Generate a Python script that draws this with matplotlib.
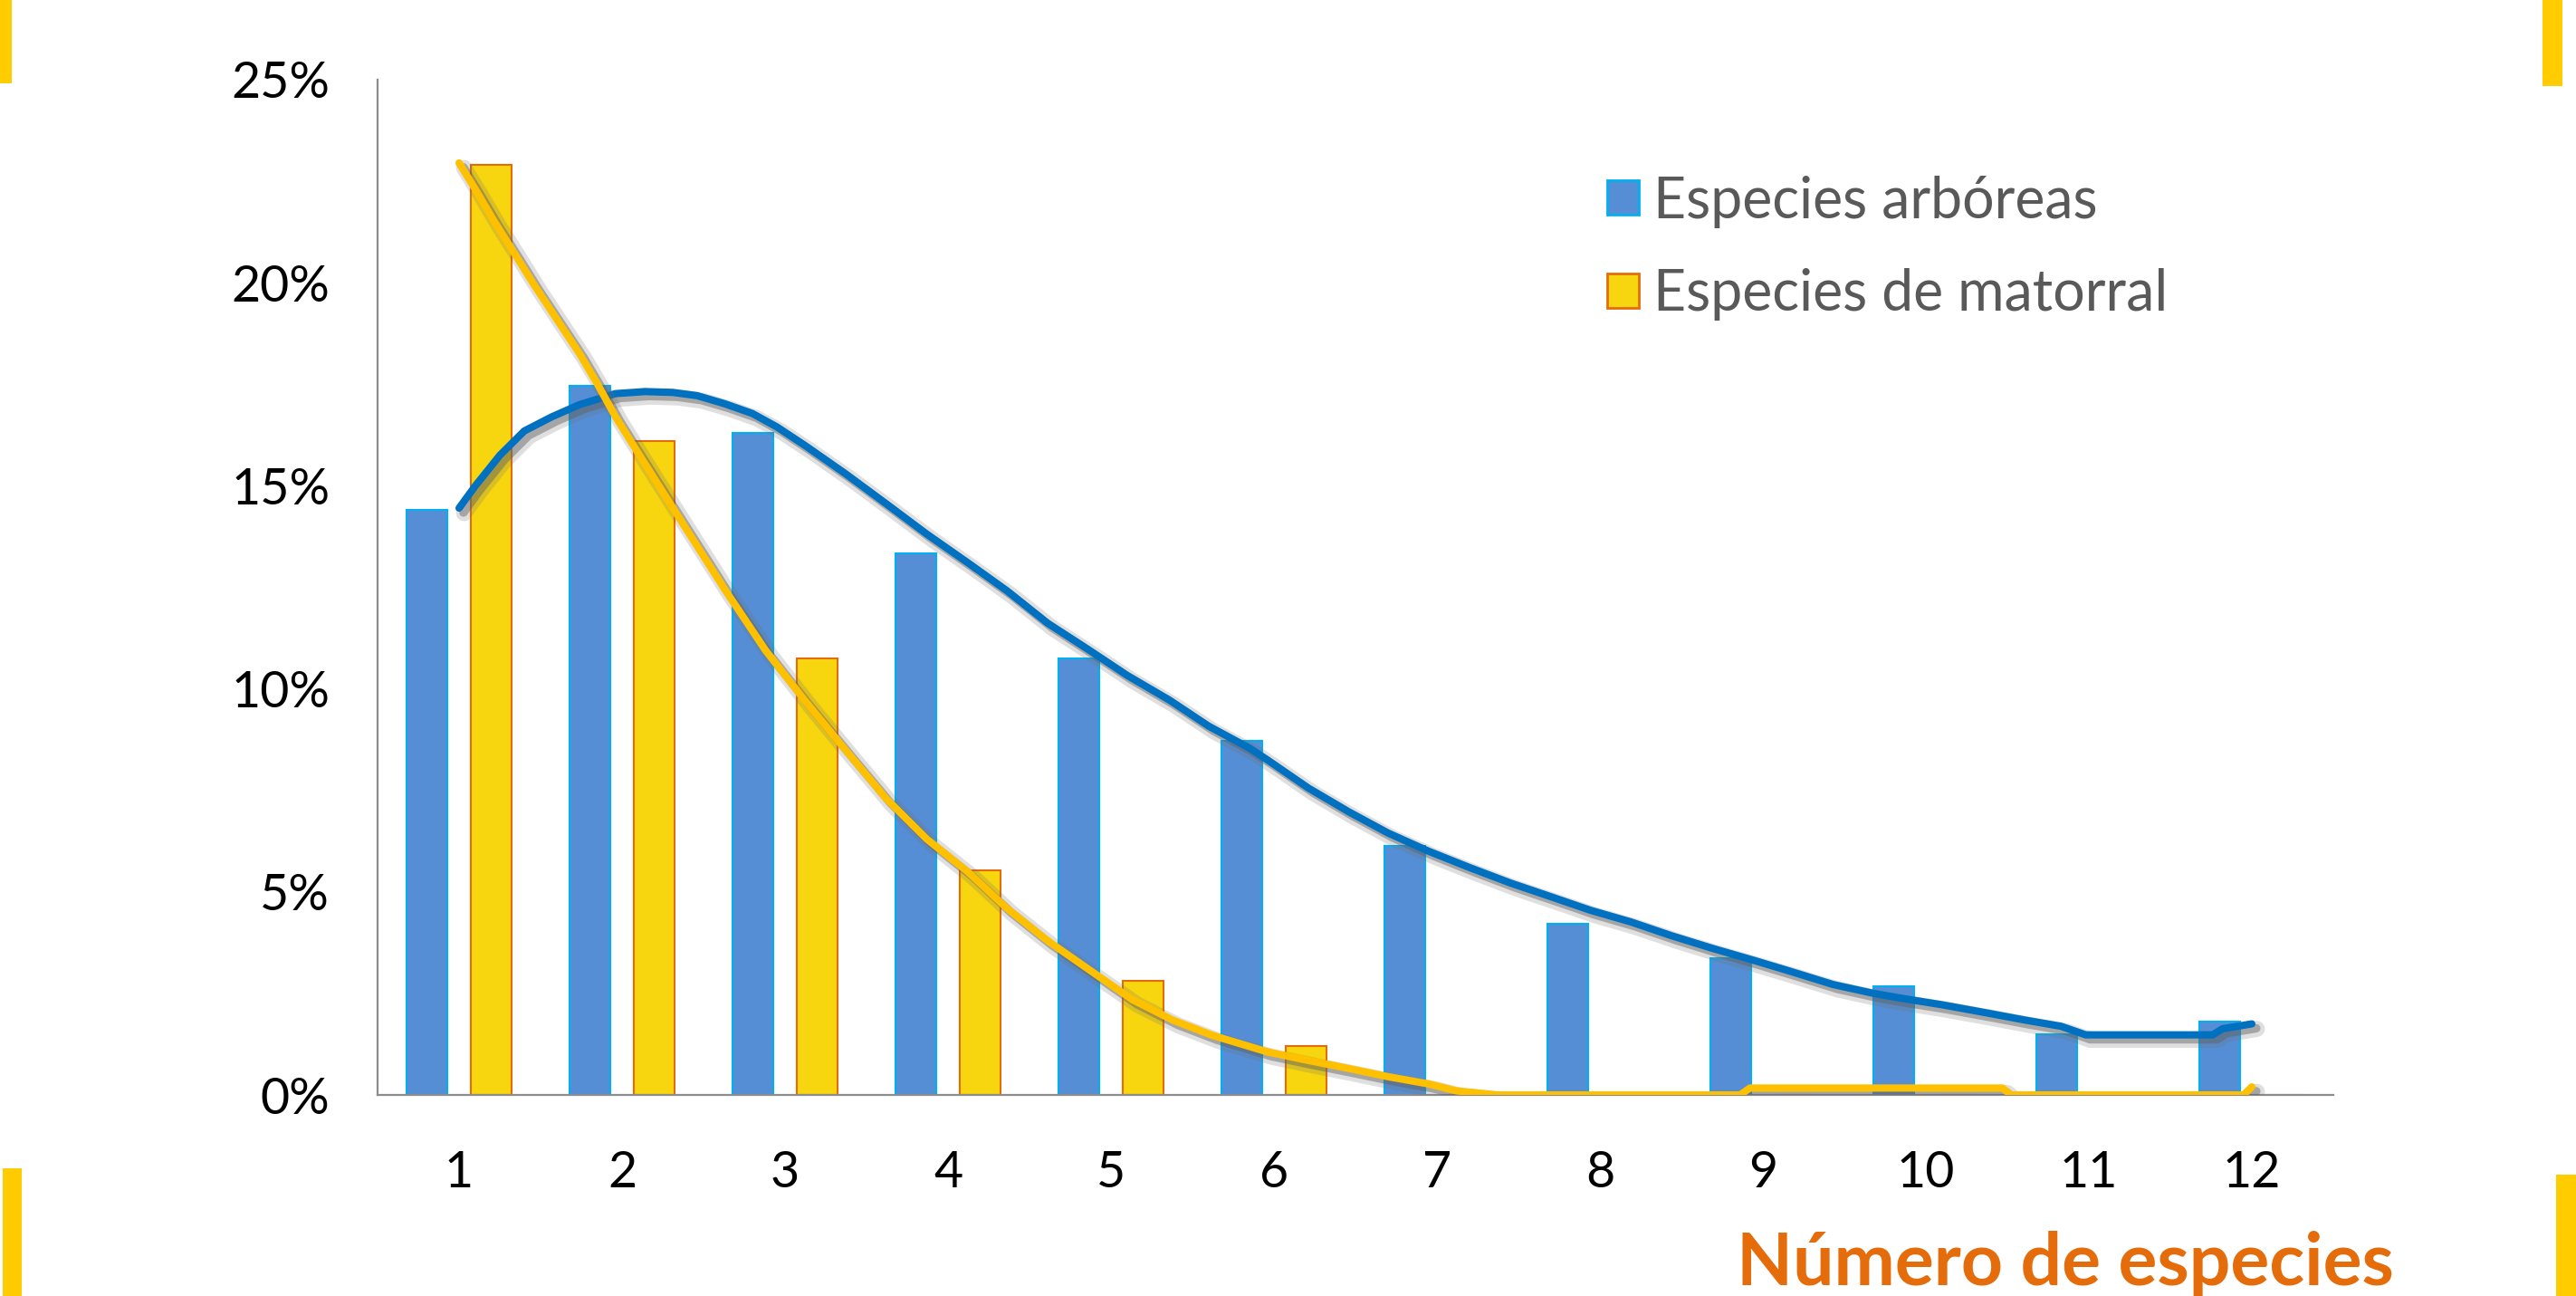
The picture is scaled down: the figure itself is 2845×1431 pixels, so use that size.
import matplotlib
matplotlib.use("Agg")
import matplotlib.pyplot as plt
import matplotlib.patheffects as pe
from matplotlib.patches import Rectangle, Patch

# ---------------- data ----------------
categories = [1, 2, 3, 4, 5, 6, 7, 8, 9, 10, 11, 12]
tick_labels = ["1", "2", "3", "4", "5", "6", "7", "8", "9", "10", "11", "12"]
arboreas = [14.4, 17.47, 16.3, 13.33, 10.75, 8.72, 6.13, 4.21, 3.36, 2.68, 1.5, 1.8]
matorral = [22.9, 16.1, 10.75, 5.53, 2.82, 1.2, 0, 0, 0, 0, 0, 0]

# smoothed curves (category position, percent)
arb_curve_x = [1.0, 1.1, 1.25, 1.4, 1.57, 1.74, 1.96, 2.14, 2.31, 2.46, 2.63, 2.8,
               2.95, 3.12, 3.37, 3.62, 3.87, 4.12, 4.36, 4.61, 4.86, 5.1, 5.36,
               5.6, 5.85, 5.96, 6.21, 6.46, 6.70, 6.95, 7.2, 7.45, 7.70, 7.94,
               8.19, 8.44, 8.69, 8.94, 9.18, 9.43, 9.68, 9.85, 10.1, 10.36,
               10.6, 10.83, 10.98, 11.76, 11.82, 12.0]
arb_curve_y = [14.45, 15.0, 15.75, 16.35, 16.7, 17.0, 17.27, 17.32, 17.3, 17.22, 17.02, 16.78,
               16.45, 16.0, 15.3, 14.56, 13.81, 13.11, 12.42, 11.62, 10.97, 10.33, 9.72,
               9.08, 8.54, 8.25, 7.56, 6.97, 6.45, 6.0, 5.6, 5.22, 4.88, 4.55,
               4.26, 3.92, 3.61, 3.32, 3.03, 2.72, 2.5, 2.38, 2.22, 2.03,
               1.85, 1.69, 1.48, 1.48, 1.63, 1.75]

mat_curve_x = [1.0, 1.1, 1.21, 1.32, 1.46, 1.6, 1.74, 1.85, 1.96, 2.1, 2.25, 2.4,
               2.63, 2.88, 3.12, 3.37, 3.62, 3.87, 4.12, 4.36, 4.61, 4.86, 5.13,
               5.38, 5.62, 5.96, 6.21, 6.46, 6.70, 6.95, 7.12, 7.37, 8.86, 8.92,
               10.47, 10.52, 11.95, 12.0]
mat_curve_y = [22.95, 22.3, 21.55, 20.85, 19.95, 19.1, 18.25, 17.5, 16.7, 15.8, 14.85, 13.9,
               12.45, 10.95, 9.72, 8.5, 7.3, 6.3, 5.5, 4.6, 3.8, 3.1, 2.35,
               1.84, 1.47, 1.06, 0.85, 0.65, 0.45, 0.27, 0.1, 0.0, 0.0, 0.17,
               0.17, 0.0, 0.0, 0.2]

y_ticks = [0, 5, 10, 15, 20, 25]
legend_labels = ["Especies arbóreas", "Especies de matorral"]
xlabel_text = "Número de especies"

# ---------------- style ----------------
W, H, DPI = 2845, 1431, 100
blue_fill, blue_edge = "#558ED5", "#00B0F0"
yel_fill, yel_edge = "#F7D60F", "#E46C0A"
blue_line, yel_line = "#0070C0", "#FFC000"
orange = "#E46C0A"
deco = "#FFCC00"
tick_font = ["Lato"]

fig = plt.figure(figsize=(W / DPI, H / DPI), dpi=DPI)
fig.patch.set_facecolor("white")

ax = fig.add_axes([417 / W, 1 - 1209 / H, (2577 - 417) / W, (1209 - 88) / H])
ax.set_xlim(0.5, 12.5)
ax.set_ylim(0, 25)

bw, off = 0.25, 0.197
xb = [c - off for c in categories]
xy = [c + off for c in categories]
b1 = ax.bar(xb, arboreas, width=bw, color=blue_fill, edgecolor=blue_edge,
            linewidth=1.5, zorder=1)
b2 = ax.bar(xy, matorral, width=bw, color=yel_fill, edgecolor=yel_edge,
            linewidth=1.5, zorder=1)

lw = 5.8
shadow = [pe.SimpleLineShadow(offset=(4, -4), shadow_color="#707070", alpha=0.22,
                              linewidth=lw + 7),
          pe.SimpleLineShadow(offset=(3.5, -3.5), shadow_color="#606060", alpha=0.45,
                              linewidth=lw + 1),
          pe.Normal()]
ax.plot(arb_curve_x, arb_curve_y, color=blue_line, lw=lw, zorder=4,
        solid_capstyle="round", solid_joinstyle="round", path_effects=shadow)
ax.plot(mat_curve_x, mat_curve_y, color=yel_line, lw=lw, zorder=4,
        solid_capstyle="round", solid_joinstyle="round", path_effects=shadow)

for s in ["top", "right"]:
    ax.spines[s].set_visible(False)
for s in ["left", "bottom"]:
    ax.spines[s].set_color("#8C8C8C")
    ax.spines[s].set_linewidth(1.6)
    ax.spines[s].set_zorder(3)

ax.set_xticks(categories)
ax.set_xticklabels(tick_labels)
ax.set_yticks(y_ticks)
ax.set_yticklabels([f"{v}%" for v in y_ticks])
ax.tick_params(axis="both", length=0, labelsize=40, labelcolor="black")
ax.tick_params(axis="x", pad=44)
ax.tick_params(axis="y", pad=38)
for lab in ax.get_xticklabels() + ax.get_yticklabels():
    lab.set_family(tick_font)
    lab.set_fontweight("normal")

handles = [Patch(facecolor=blue_fill, edgecolor=blue_edge, linewidth=2),
           Patch(facecolor=yel_fill, edgecolor=yel_edge, linewidth=2)]
leg = ax.legend(handles, legend_labels, loc="center left",
                bbox_to_anchor=(1775 / W, 1 - 274 / H), bbox_transform=fig.transFigure,
                frameon=False, borderpad=0, borderaxespad=0,
                handlelength=0.56, handleheight=0.56, handletextpad=0.25,
                labelspacing=0.72, prop={"family": tick_font, "size": 45, "weight": "normal"})
for t in leg.get_texts():
    t.set_color("#595959")

fig.text(2644 / W, 1 - 1419 / H, xlabel_text, ha="right", va="baseline",
         fontsize=58, fontweight="bold", color=orange, family=["Lato"])

# decorative yellow bars in the corners
for (x0, y0, x1, y1) in [(0, 0, 13, 92), (2808, 0, 2830, 95),
                         (3, 1290, 24, 1431), (2823, 1297, 2845, 1431)]:
    fig.add_artist(Rectangle((x0 / W, 1 - y1 / H), (x1 - x0) / W, (y1 - y0) / H,
                             transform=fig.transFigure, color=deco, lw=0))

fig.savefig("out.png", dpi=DPI, facecolor="white")
